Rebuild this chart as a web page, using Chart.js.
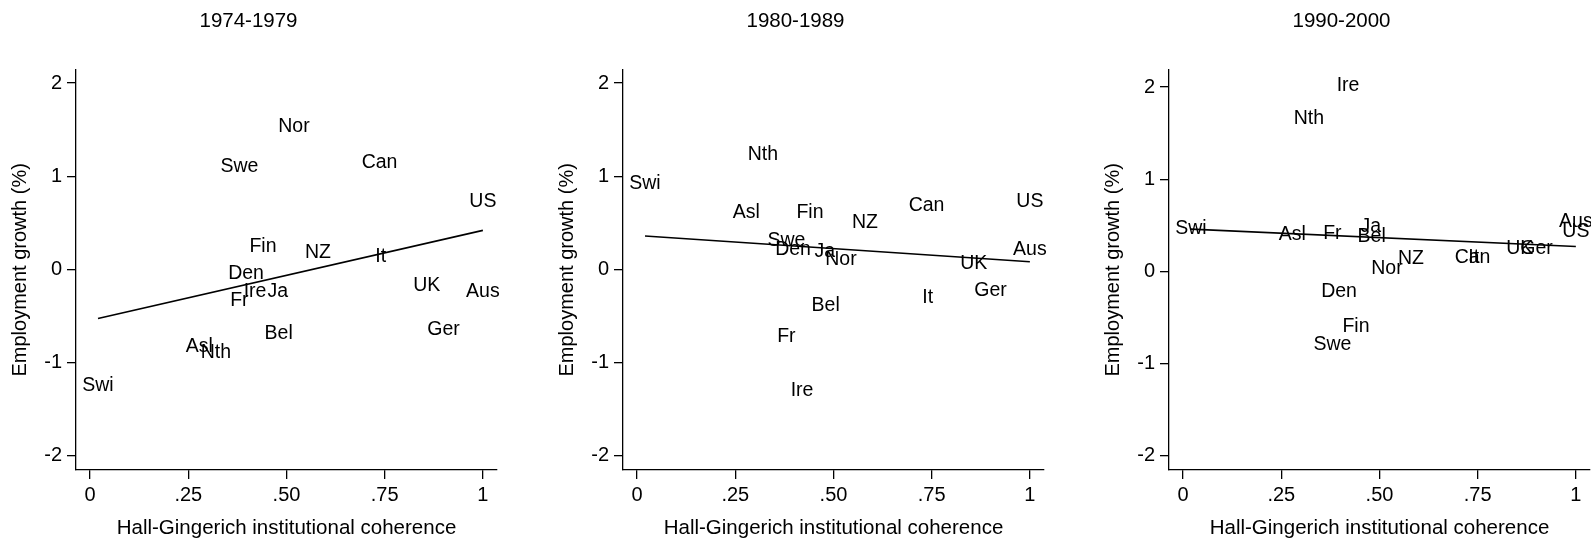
<!DOCTYPE html>
<html><head><meta charset="utf-8">
<script src="https://cdn.jsdelivr.net/npm/chart.js@4"></script>
<style>
html,body{margin:0;padding:0;background:#fff;overflow:hidden;width:1591px;height:545px;position:relative;}
.p{position:absolute;top:0;width:546px;height:545px;}
canvas{display:block;}
</style></head><body>
<div class="p" style="left:0px"><canvas id="c0" width="546" height="545"></canvas></div>
<div class="p" style="left:547px"><canvas id="c1" width="546" height="545"></canvas></div>
<div class="p" style="left:1093px"><canvas id="c2" width="546" height="545"></canvas></div>
<script>
// ---- data ----
const countries = ['Swi','Asl','Nth','Fr','Swe','Den','Ire','Fin','Ja','Bel','Nor','NZ','Can','It','UK','Ger','Aus','US'];
const coherence = [0.02,0.278,0.32,0.38,0.38,0.397,0.42,0.44,0.478,0.48,0.519,0.58,0.737,0.74,0.857,0.90,1.0,1.0];
const growth1974_79 = [-1.243,-0.825,-0.893,-0.340,1.104,-0.046,-0.243,0.246,-0.243,-0.689,1.533,0.182,1.150,0.139,-0.171,-0.646,-0.236,0.732];
const growth1980_89 = [0.918,0.607,1.229,-0.718,0.311,0.214,-1.297,0.607,0.186,-0.393,0.104,0.500,0.679,-0.304,0.061,-0.225,0.214,0.732];
const growth1990_00 = [0.466,0.405,1.662,0.412,-0.798,-0.220,2.019,-0.599,0.488,0.379,0.026,0.141,0.152,0.152,0.249,0.249,0.538,0.430];
const fitX = [0.02, 1.0];
const fit1974_79 = [-0.528, 0.418];
const fit1980_89 = [0.357, 0.082];
const fit1990_00 = [0.459, 0.271];
const panelTitles = ['1974-1979','1980-1989','1990-2000'];
const xTickValues = [0, 0.25, 0.5, 0.75, 1];
const xTickLabels = ['0','.25','.50','.75','1'];
const yTickValues = [-2, -1, 0, 1, 2];
const yTickLabels = ['-2','-1','0','1','2'];
const xTitle = 'Hall-Gingerich institutional coherence';
const yTitle = 'Employment growth (%)';

const FONT = '"Liberation Sans", Arial, Helvetica, sans-serif';

const labelPlugin = {
  id: 'pointLabels',
  afterDatasetsDraw(chart) {
    const meta = chart.getDatasetMeta(0);
    const ctx = chart.ctx;
    ctx.save();
    ctx.font = '19.5px ' + FONT;
    ctx.fillStyle = '#000';
    ctx.textAlign = 'center';
    ctx.textBaseline = 'middle';
    meta.data.forEach((pt, i) => ctx.fillText(countries[i], pt.x, pt.y));
    ctx.restore();
  }
};

function makePanel(id, title, growth, fit, yMax) {
  const pts = coherence.map((x, i) => ({x: x, y: growth[i]}));
  const line = fitX.map((x, i) => ({x: x, y: fit[i]}));
  new Chart(document.getElementById(id), {
    type: 'scatter',
    data: {
      datasets: [
        {data: pts, pointRadius: 0, pointHoverRadius: 0, showLine: false},
        {data: line, showLine: true, borderColor: '#000', borderWidth: 1.6, pointRadius: 0, tension: 0, fill: false}
      ]
    },
    options: {
      responsive: false,
      maintainAspectRatio: false,
      devicePixelRatio: 1,
      animation: false,
      events: [],
      layout: {padding: {left: 0, right: 49, top: 0, bottom: 0}},
      plugins: {
        legend: {display: false},
        tooltip: {enabled: false},
        title: {display: true, text: title, color: '#000', font: {family: FONT, size: 20.5, weight: 'normal'}, padding: {top: 9, bottom: 36}}
      },
      scales: {
        x: {
          type: 'linear', min: -0.036, max: 1.036,
          afterBuildTicks: s => { s.ticks = xTickValues.map(v => ({value: v})); },
          afterFit: s => { s.height = 75; },
          ticks: {color: '#000', font: {family: FONT, size: 20}, padding: 4, maxRotation: 0,
                  callback: v => xTickLabels[xTickValues.indexOf(v)]},
          grid: {drawOnChartArea: false, drawTicks: true, tickLength: 9, color: '#000', lineWidth: 1.3},
          border: {display: true, color: '#000', width: 1.3},
          title: {display: true, text: xTitle, color: '#000', font: {family: FONT, size: 20.5}, padding: {top: 0, bottom: 4}}
        },
        y: {
          type: 'linear', min: -2.154, max: yMax,
          afterBuildTicks: s => { s.ticks = yTickValues.map(v => ({value: v})); },
          afterFit: s => { s.width = 76; },
          ticks: {color: '#000', font: {family: FONT, size: 20}, padding: 5,
                  callback: v => yTickLabels[yTickValues.indexOf(v)]},
          grid: {drawOnChartArea: false, drawTicks: true, tickLength: 9, color: '#000', lineWidth: 1.3},
          border: {display: true, color: '#000', width: 1.3},
          title: {display: true, text: yTitle, color: '#000', font: {family: FONT, size: 20}, padding: {top: 8, bottom: 0}}
        }
      }
    },
    plugins: [labelPlugin]
  });
}

makePanel('c0', panelTitles[0], growth1974_79, fit1974_79, 2.144);
makePanel('c1', panelTitles[1], growth1980_89, fit1980_89, 2.144);
makePanel('c2', panelTitles[2], growth1990_00, fit1990_00, 2.19);
</script>
</body></html>
